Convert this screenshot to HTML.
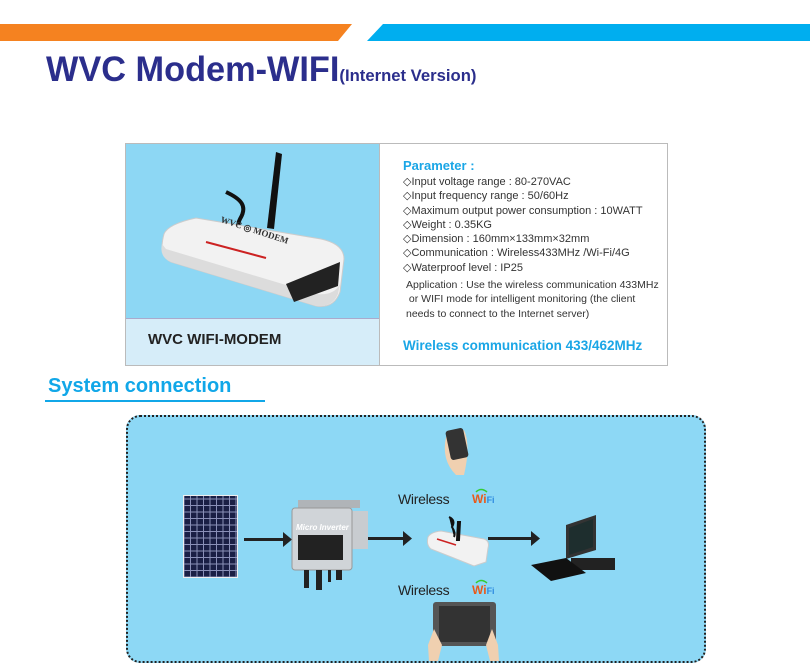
<!DOCTYPE html>
<html><head><meta charset="utf-8"><style>
*{margin:0;padding:0;box-sizing:border-box}
body{width:810px;height:665px;background:#fff;position:relative;overflow:hidden;font-family:"Liberation Sans",sans-serif}
.a{position:absolute}
.sp{font-size:11px;color:#333;line-height:14.3px;white-space:nowrap}
</style></head><body>
<svg class="a" style="left:0;top:0" width="810" height="45">
<polygon points="0,24 352,24 338,41 0,41" fill="#f58220"/>
<polygon points="383,24 810,24 810,41 367,41" fill="#00aeef"/>
</svg>
<div class="a" style="left:46px;top:50px;color:#2b2e8c;font-weight:bold;font-size:35px;letter-spacing:0px;transform:scaleX(0.98);transform-origin:left;white-space:nowrap">WVC Modem-WIFI<span style="font-size:17px;letter-spacing:0">(Internet Version)</span></div>

<div class="a" style="left:125px;top:143px;width:543px;height:223px;border:1px solid #bbb;background:#fff"></div>
<div class="a" style="left:126px;top:144px;width:253px;height:174px;background:#8dd7f4"></div>
<div class="a" style="left:126px;top:318px;width:253px;height:47px;background:#d6edf9;border-top:1px solid #aac"></div>
<div class="a" style="left:379px;top:144px;width:1px;height:221px;background:#bbb"></div>
<svg class="a" style="left:126px;top:144px" width="253" height="174">
<path d="M100,48 C115,55 122,62 114,75 C108,85 122,92 128,100" stroke="#111" stroke-width="4" fill="none"/>
<path d="M150,8 L156,10 L148,85 L141,84 Z" fill="#111"/>
<path d="M38,90 Q42,80 70,74 L195,95 Q218,100 218,115 L214,148 Q208,165 190,162 L45,118 Q32,112 38,90 Z" fill="#f2f2f2" stroke="#ccc"/>
<path d="M40,105 L190,150 Q208,152 214,140 L212,150 Q206,164 190,162 L45,118 Q33,113 36,100 Z" fill="#dcdcdc"/>
<path d="M160,140 L214,118 L212,142 L168,158 Z" fill="#222"/>
<line x1="80" y1="98" x2="140" y2="114" stroke="#c22" stroke-width="2"/>
<text x="94" y="78" font-size="9" font-weight="bold" fill="#333" transform="rotate(18 94 78)" font-family="Liberation Serif">WVC ◎ MODEM</text>
</svg>
<div class="a" style="left:148px;top:331px;font-size:15px;font-weight:bold;color:#222">WVC WIFI-MODEM</div>
<div class="a" style="left:403px;top:158px;font-size:13px;font-weight:bold;color:#1aa6e6">Parameter :</div>
<div class="a sp" style="left:403px;top:175px">◇Input voltage range : 80-270VAC<br>◇Input frequency range : 50/60Hz<br>◇Maximum output power consumption : 10WATT<br>◇Weight : 0.35KG<br>◇Dimension : 160mm×133mm×32mm<br>◇Communication : Wireless433MHz /Wi-Fi/4G<br>◇Waterproof level : IP25</div>
<div class="a sp" style="left:406px;top:278px;font-size:10.5px">Application : Use the wireless communication 433MHz<br>&nbsp;or WIFI mode for intelligent monitoring (the client<br>needs to connect to the Internet server)</div>
<div class="a" style="left:403px;top:338px;font-size:13.5px;font-weight:bold;color:#1aa6e6;white-space:nowrap">Wireless communication 433/462MHz</div>

<div class="a" style="left:48px;top:375px;font-size:20px;font-weight:bold;color:#11a7e8">System connection</div>
<div class="a" style="left:45px;top:400px;width:220px;height:2px;background:#11a7e8"></div>

<div class="a" style="left:126px;top:415px;width:580px;height:248px;background:#8dd8f5;border:2px dotted #222;border-radius:14px"></div>
<svg class="a" style="left:126px;top:415px" width="580" height="248">
<defs><pattern id="c" width="6.5" height="6.5" patternUnits="userSpaceOnUse"><rect width="6.5" height="6.5" fill="#1a1f45"/><rect x="5.5" width="1" height="6.5" fill="#8a90b8"/><rect y="5.5" width="6.5" height="1" fill="#8a90b8"/></pattern></defs>
<rect x="57" y="80" width="55" height="83" fill="#eee"/>
<rect x="58" y="81" width="53" height="81" fill="url(#c)"/>
<g fill="#222"><rect x="118" y="123" width="42" height="3"/><polygon points="157,117 166,124.5 157,132"/>
<rect x="234" y="122" width="46" height="3"/><polygon points="277,116 286,123.5 277,131"/>
<rect x="362" y="122" width="46" height="3"/><polygon points="405,116 414,123.5 405,131"/></g>
<rect x="172" y="85" width="62" height="8" fill="#b0b4b8"/>
<rect x="220" y="96" width="22" height="38" fill="#c8ccd0"/>
<rect x="166" y="93" width="60" height="62" rx="3" fill="#d0d4d8" stroke="#999"/>
<text x="170" y="115" font-size="8" font-style="italic" font-weight="bold" fill="#fff">Micro Inverter</text>
<rect x="172" y="120" width="45" height="25" fill="#222"/>
<g fill="#222"><rect x="178" y="155" width="5" height="18"/><rect x="190" y="155" width="6" height="20"/><rect x="202" y="155" width="3" height="12"/><rect x="210" y="155" width="6" height="10"/></g>
<path d="M302,122 Q305,117 315,116 L358,124 Q364,126 362,133 L360,147 L348,151 L305,134 Q300,130 302,122Z" fill="#f2f2f2" stroke="#ccc"/>
<line x1="311" y1="124" x2="330" y2="130" stroke="#c22" stroke-width="1.5"/>
<path d="M332,107 L334,107 L333,125 L331,125Z M323,102 Q330,105 326,112 Q330,118 328,122" stroke="#111" stroke-width="2" fill="#111"/>
<path d="M440,110 L470,100 L470,135 L440,144 Z" fill="#333"/><path d="M443,113 L467,104 L467,132 L443,140Z" fill="#1e2e2e"/>
<rect x="445" y="143" width="44" height="12" fill="#222"/>
<path d="M405,150 L440,143 L460,158 L425,166 Z" fill="#111"/>
<path d="M330,60 Q315,45 320,22 L338,15 Q345,30 338,60Z" fill="#f0d0b0"/>
<rect x="322" y="14" width="18" height="30" rx="3" fill="#333" transform="rotate(-12 331 29)"/>
<text x="272" y="89" font-size="14" fill="#222" letter-spacing="-0.3">Wireless</text>
<text x="346" y="88" font-size="12" font-weight="bold" fill="#e85a1a">Wi<tspan fill="#2e8be0" font-size="9">Fi</tspan></text>
<path d="M350,77 Q355,72 361,77" stroke="#3c3" stroke-width="1.5" fill="none"/>
<text x="272" y="180" font-size="14" fill="#222" letter-spacing="-0.3">Wireless</text>
<text x="346" y="179" font-size="12" font-weight="bold" fill="#e85a1a">Wi<tspan fill="#2e8be0" font-size="9">Fi</tspan></text>
<path d="M350,168 Q355,163 361,168" stroke="#3c3" stroke-width="1.5" fill="none"/>
<rect x="307" y="187" width="63" height="44" rx="3" fill="#555"/>
<rect x="313" y="191" width="51" height="36" fill="#333"/>
<path d="M302,230 L308,214 L316,230 L312,246 L303,246Z M372,230 L366,214 L360,230 L364,246 L373,246Z" fill="#f0d0b0"/>
</svg>
</body></html>
